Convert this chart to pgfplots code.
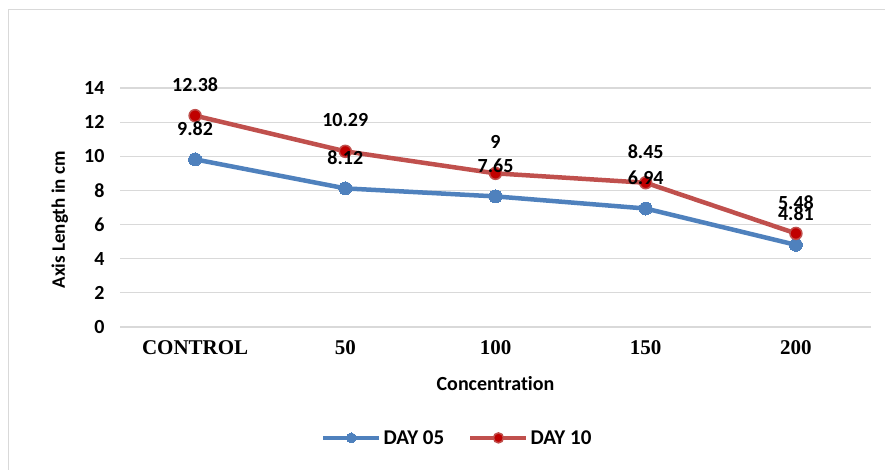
\documentclass[border=0pt]{standalone}
\usepackage{fontspec}
\setmainfont{Carlito}[RawFeature={-liga;-dlig}]
\newfontfamily\timesfont{Liberation Serif}
\usepackage{pgfplots}
\pgfplotsset{compat=1.18}
\definecolor{cblue}{RGB}{79,129,189}
\definecolor{cred}{RGB}{192,80,77}
\definecolor{cdred}{RGB}{192,0,0}
\definecolor{cgrid}{RGB}{217,217,217}
\begin{document}
\begin{tikzpicture}
\useasboundingbox (0pt,0pt) rectangle (885pt,470pt);
\fill[white] (0pt,0pt) rectangle (885pt,470pt);
\draw[cgrid, line width=1pt] (8pt,-5pt) rectangle (895pt,460pt);
\begin{axis}[
  at={(120pt,143pt)}, anchor=south west,
  scale only axis, width=751pt, height=239pt,
  xmin=-0.5, xmax=4.5, ymin=0, ymax=14,
  ytick={0,2,...,14},
  xtick={0,...,4},
  xticklabels={CONTROL,50,100,150,200},
  axis line style={draw=none},
  major tick length=0pt,
  ymajorgrids,
  major grid style={cgrid, line width=1.2pt},
  /pgf/number format/assume math mode=true,
  yticklabel style={font=\fontsize{20}{24}\selectfont\bfseries, anchor=east, xshift=-12pt},
  xticklabel style={font=\fontsize{21}{25}\selectfont\timesfont\bfseries, anchor=north, yshift=-10pt},
  xlabel={Concentration},
  ylabel={Axis Length in cm},
  xlabel style={font=\fontsize{20}{24}\selectfont\bfseries, at={(axis description cs:0.5,-0.238)}, anchor=center},
  ylabel style={font=\fontsize{19}{23}\selectfont\bfseries, at={(axis description cs:-0.08,0.448)}, anchor=center, rotate=0},
  legend style={draw=none, fill=none, legend columns=2, at={(axis description cs:0.449,-0.464)}, anchor=center,
    font=\fontsize{21}{25}\selectfont\bfseries,
    /tikz/every even column/.append style={column sep=22pt}},
  legend image code/.code={\draw[mark repeat=2,mark phase=2, mark size=5pt] plot coordinates {(0pt,0pt) (28pt,0pt) (56pt,0pt)};},
  every node near coord/.append style={font=\fontsize{20}{24}\selectfont\bfseries, text=black, anchor=center, yshift=31pt},
  clip=false,
]
\addplot[cblue, line width=4.5pt, mark=*, mark size=6.5pt, mark options={fill=cblue, draw=cblue, line width=0pt}]
  table {
x y
0 9.82
1 8.12
2 7.65
3 6.94
4 4.81
};
\addlegendentry{DAY 05}
\addplot[cred, line width=4.5pt, mark=*, mark size=6pt, mark options={fill=cdred, draw=cred, line width=1.5pt}]
  table {
x y
0 12.38
1 10.29
2 9
3 8.45
4 5.48
};
\addlegendentry{DAY 10}
\addplot[draw=none, forget plot, nodes near coords, point meta=explicit symbolic]
  table[meta=l] {
x y l
0 9.82 9.82
1 8.12 8.12
2 7.65 7.65
3 6.94 6.94
4 4.81 4.81
};
\addplot[draw=none, forget plot, nodes near coords, point meta=explicit symbolic]
  table[meta=l] {
x y l
0 12.38 12.38
1 10.29 10.29
2 9 9
3 8.45 8.45
4 5.48 5.48
};
\end{axis}
\end{tikzpicture}
\end{document}
